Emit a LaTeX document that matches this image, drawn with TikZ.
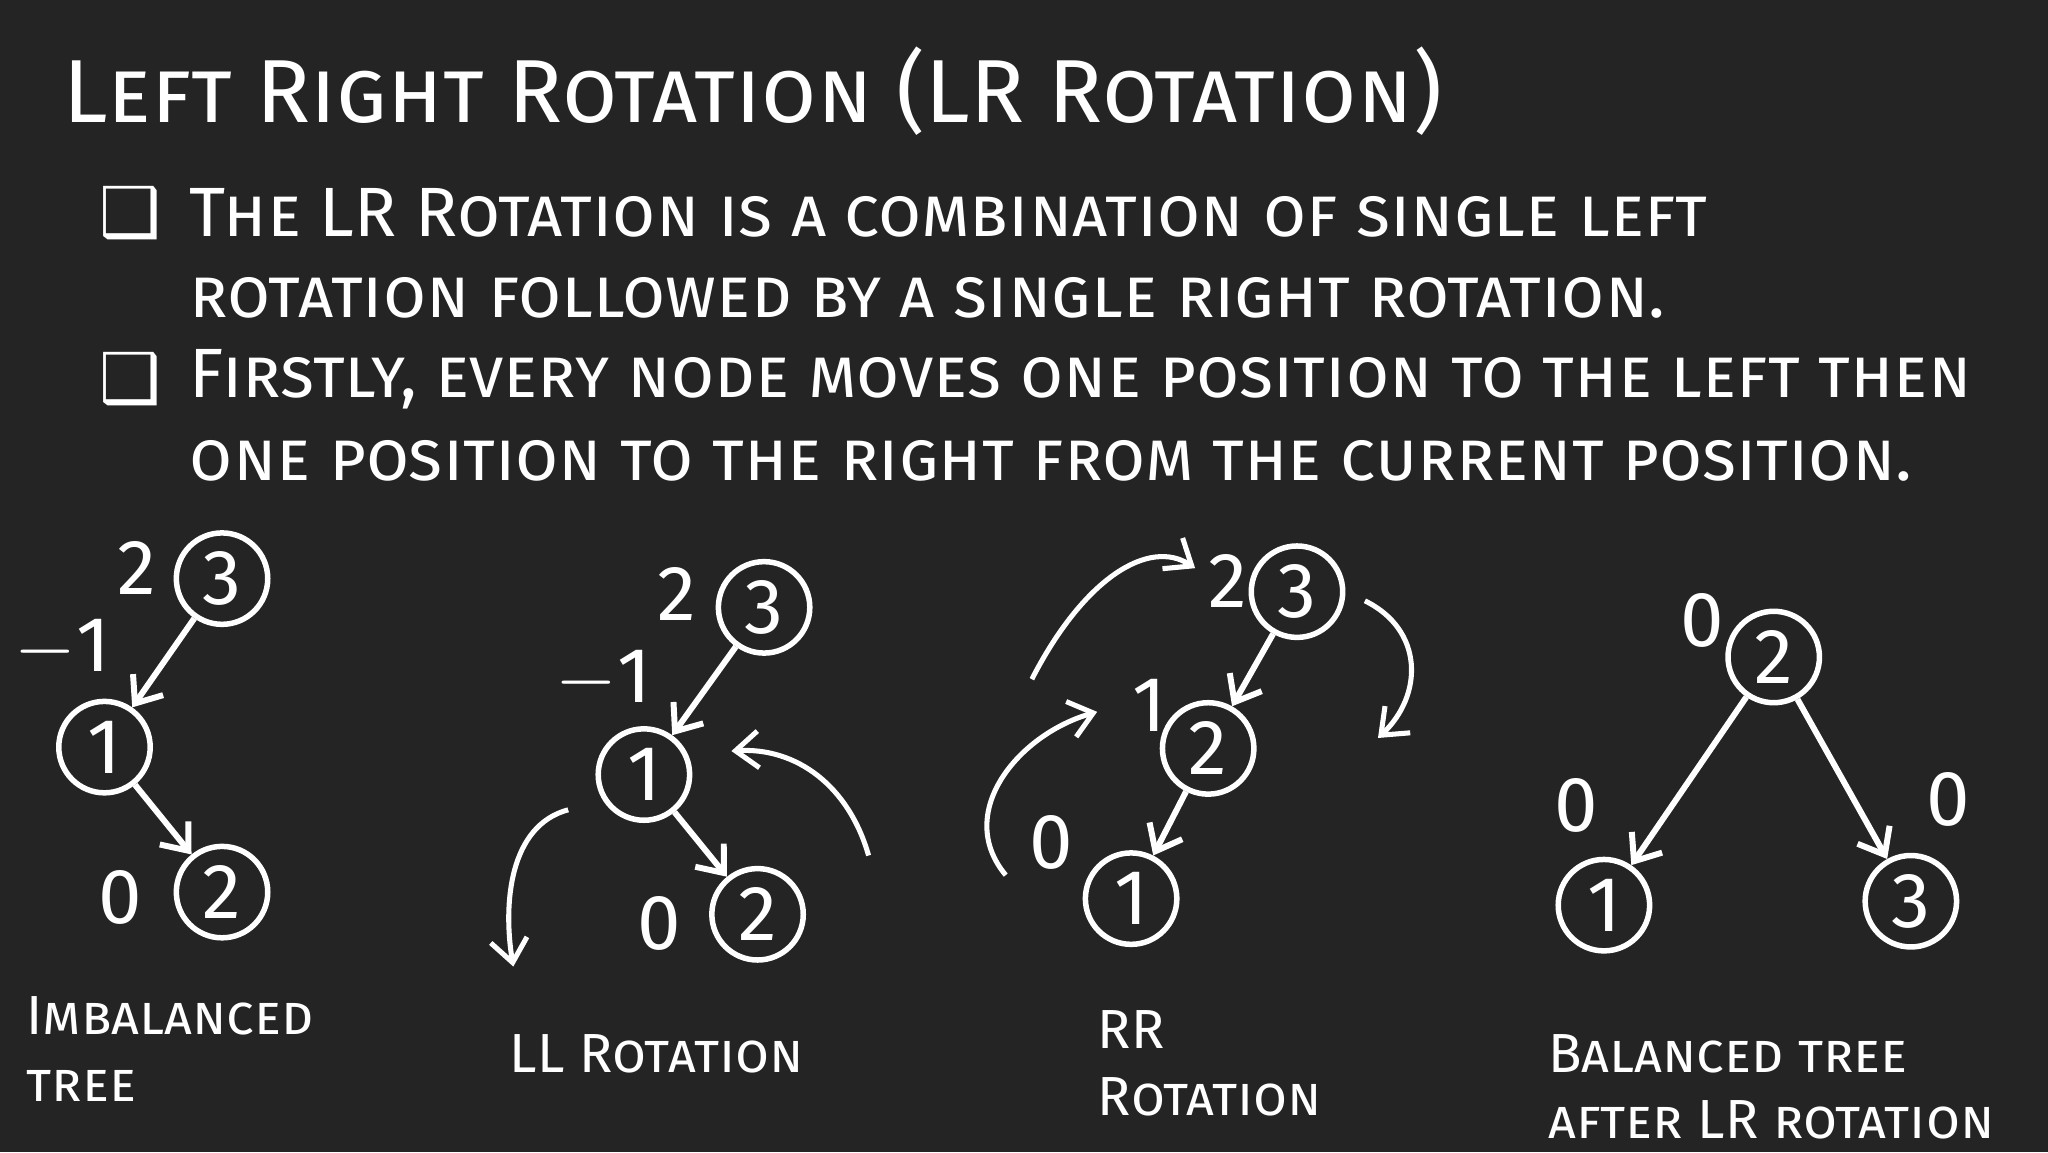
\documentclass[tikz,border=0pt]{standalone}
\usepackage{fontspec}
\setmainfont{Fira Sans}
\newfontfamily\symf{DejaVu Sans}
\usetikzlibrary{arrows.meta}
\definecolor{board}{HTML}{242424}
\tikzset{
 tn/.style={circle,draw=white,line width=1.2pt,minimum size=0.7cm,inner sep=0pt,text=white,font=\fontsize{17}{17}\selectfont},
 bf/.style={text=white,font=\fontsize{17}{17}\selectfont},
 captxt/.style={text=white,anchor=west,align=left,font=\fontsize{12}{14.5}\selectfont\scshape},
 body/.style={text=white,anchor=west,font=\fontsize{15.2}{15.2}\selectfont\scshape},
 ed/.style={draw=white,line width=1.3pt,-{Straight Barb[length=5pt,width=8pt]}},
 cv/.style={draw=white,line width=1.1pt,-{Straight Barb[length=5pt,width=8pt]}}
}
\begin{document}
\begin{tikzpicture}
\fill[board] (0,0) rectangle (15.68,8.82);
\useasboundingbox (0,0) rectangle (15.68,8.82);
\node[text=white,anchor=west,font=\fontsize{19.5}{19.5}\selectfont\scshape] (title) at (0.36,8.12) {Left Right Rotation (LR Rotation)};
\node[text=white,font=\symf\fontsize{15}{15}\selectfont] (b1) at (1.0,7.19) {❑};
\node[text=white,font=\symf\fontsize{15}{15}\selectfont] (b2) at (1.0,5.92) {❑};
\node[body] (l1) at (1.33,7.19) {The LR Rotation is a combination of single left};
\node[body] (l2) at (1.33,6.54) {rotation followed by a single right rotation.};
\node[body] (l3) at (1.33,5.92) {Firstly, every node moves one position to the left then};
\node[body] (l4) at (1.33,5.29) {one position to the right from the current position.};
% tree 1
\node[tn] (a3) at (1.70,4.39) {3};
\node[tn] (a1) at (0.80,3.10) {1};
\node[tn] (a2) at (1.70,1.99) {2};
\node[bf] (ab2) at (1.05,4.47) {2};
\node[bf] (ab1) at (0.48,3.85) {$-$1};
\node[bf] (ab0) at (0.92,1.95) {0};
\draw[ed] (a3) -- (a1);
\draw[ed] (a1) -- (a2);
% tree 2
\node[tn] (c3) at (5.85,4.17) {3};
\node[tn] (c1) at (4.93,2.89) {1};
\node[tn] (c2) at (5.80,1.82) {2};
\node[bf] (cb2) at (5.18,4.27) {2};
\node[bf] (cb1) at (4.62,3.62) {$-$1};
\node[bf] (cb0) at (5.05,1.75) {0};
\draw[ed] (c3) -- (c1);
\draw[ed] (c1) -- (c2);
\coordinate (cs1) at (4.35,2.62); \coordinate (ce1) at (3.93,1.42);
\coordinate (cs2) at (6.65,2.27); \coordinate (ce2) at (5.60,3.07);
\draw[cv] (cs1) .. controls (3.9,2.5) and (3.85,1.9) .. (ce1);
\draw[cv] (cs2) .. controls (6.5,2.8) and (6.1,3.1) .. (ce2);
% tree 3
\node[tn] (d3) at (9.93,4.29) {3};
\node[tn] (d2) at (9.25,3.09) {2};
\node[tn] (d1) at (8.66,1.94) {1};
\node[bf] (db2) at (9.40,4.37) {2};
\node[bf] (db1) at (8.80,3.42) {1};
\node[bf] (db0) at (8.05,2.37) {0};
\draw[ed] (d3) -- (d2);
\draw[ed] (d2) -- (d1);
\coordinate (ds1) at (7.90,3.62); \coordinate (de1) at (9.15,4.47);
\coordinate (ds2) at (10.45,4.22); \coordinate (de2) at (10.55,3.17);
\coordinate (ds3) at (7.70,2.12); \coordinate (de3) at (8.40,3.37);
\draw[cv] (ds1) .. controls (8.3,4.4) and (8.8,4.7) .. (de1);
\draw[cv] (ds2) .. controls (10.9,4.0) and (10.9,3.5) .. (de2);
\draw[cv] (ds3) .. controls (7.3,2.6) and (7.8,3.2) .. (de3);
% tree 4
\node[tn] (e2) at (13.58,3.79) {2};
\node[tn] (e1) at (12.28,1.89) {1};
\node[tn] (e3) at (14.63,1.92) {3};
\node[bf] (eb2) at (13.03,4.07) {0};
\node[bf] (eb1) at (12.07,2.65) {0};
\node[bf] (eb3) at (14.92,2.70) {0};
\draw[ed] (e2) -- (e1);
\draw[ed] (e2) -- (e3);
% captions
\node[captxt] (t1) at (0.08,0.79) {Imbalanced\\tree};
\node[captxt] (t2) at (3.78,0.75) {LL Rotation};
\node[captxt] (t3) at (8.28,0.68) {RR\\Rotation};
\node[captxt] (t4) at (11.73,0.50) {Balanced tree\\after LR rotation};
\end{tikzpicture}
\end{document}
